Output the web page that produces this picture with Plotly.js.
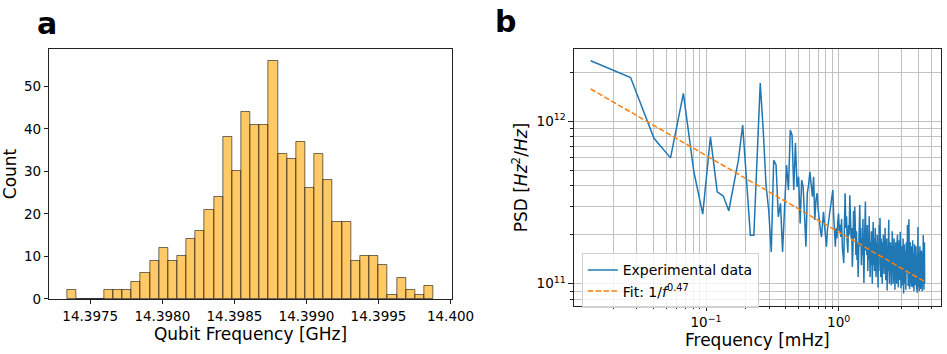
<!DOCTYPE html>
<html>
<head>
<meta charset="utf-8">
<script src="https://cdn.plot.ly/plotly-3.0.1.min.js"></script>
<style>
  body { margin: 0; background: #fff; }
  #plotArea { width: 947px; height: 354px; }
</style>
</head>
<body>
<div id="plotArea"></div>
<script>
// histogram of qubit frequency (40 bins)
var binStart = 14.397343;
var binEnd = 14.399881;
var counts = [2, 0, 0, 0, 2, 2, 2, 4, 6, 9,
              12, 9, 10, 14, 16, 21, 24, 38, 30, 44,
              41, 41, 56, 34, 33, 37, 26, 34, 28, 18,
              18, 9, 10, 10, 8, 1, 5, 2, 1, 3];
var histTickVals = [14.3975, 14.398, 14.3985, 14.399, 14.3995, 14.4];
var histTickText = ["14.3975", "14.3980", "14.3985", "14.3990", "14.3995", "14.400"];
var countTicks = [0, 10, 20, 30, 40, 50];

// PSD, frequency step in mHz, values in units of 1e11 Hz^2/Hz
var freqStep = 0.01349;
var psd = [
  23.5, 18.5, 7.83, 5.94, 14.8, 4.88, 2.68, 8.0, 3.67, 3.46,
  2.81, 4.05, 5.75, 9.44, 4.34, 1.99, 1.99, 6.01, 17.1, 8.81,
  4.05, 2.84, 1.57, 5.75, 5.37, 2.58, 3.12, 1.57, 3.27, 5.37,
  3.77, 8.81, 8.2, 3.77, 7.33, 3.94, 4.55, 2.35, 4.34, 3.94,
  2.64, 1.69, 3.6, 4.05, 4.88, 4.05, 3.43, 4.55, 2.47, 3.27,
  3.6, 2.84, 2.3, 2.14, 1.94, 2.47, 2.77, 2.3, 1.86, 1.69,
  2.14, 2.35, 2.6, 2.85, 3.05, 3.4, 3.77, 2.6, 2.1, 1.69,
  2.2, 1.9, 2.4, 2.7, 2.1, 2.3, 1.94, 2.5, 1.7, 1.45,
  1.34, 2.4, 3.6, 2.2, 2.6, 1.8, 1.55, 2.3, 2.0, 3.5,
  2.4, 1.9, 2.2, 1.27, 1.6, 2.8, 1.9, 2.97, 2.3, 1.5,
  2.1, 1.4, 1.8, 1.1, 1.6, 2.4, 3.05, 1.7, 2.2, 1.3,
  1.9, 1.5, 2.5, 1.4, 1.01, 1.7, 2.2, 3.2, 1.6, 2.0,
  1.5, 2.3, 1.2, 1.9, 1.4, 2.6, 1.6, 1.1, 1.8, 1.3,
  2.1, 1.5, 1.0, 1.7, 2.4, 1.3, 1.9, 1.2, 1.6, 2.2,
  1.4, 1.1, 1.8, 1.3, 2.0, 1.5, 0.95, 1.7, 1.2, 2.3,
  1.6, 2.54, 1.4, 1.1, 1.9, 1.3, 1.6, 1.0, 1.8, 1.25,
  2.0, 1.4, 1.15, 1.7, 1.3, 2.2, 1.5, 1.05, 1.6, 1.2,
  1.9, 0.91, 1.4, 1.7, 1.2, 2.0, 2.47, 1.3, 1.0, 1.6,
  1.25, 1.8, 1.1, 1.5, 0.98, 1.7, 1.3, 2.1, 1.2, 1.45,
  1.0, 1.65, 1.3, 1.9, 1.1, 1.4, 0.92, 1.55, 1.25, 1.8,
  1.15, 1.5, 1.0, 1.75, 1.3, 2.0, 1.1, 1.4, 0.95, 1.6,
  1.2, 1.85, 1.05, 1.45, 1.3, 2.09, 1.15, 1.55, 0.94, 1.35,
  1.7, 1.1, 1.4, 0.98, 1.6, 1.25, 1.9, 1.05, 0.87, 1.5,
  1.2, 1.75, 1.0, 1.35, 1.6, 1.1, 1.45, 0.92, 1.3, 1.8,
  1.05, 1.5, 1.2, 1.95, 2.3, 1.15, 1.4, 0.97, 1.65, 1.25,
  2.49, 1.1, 1.4, 0.93, 1.55, 1.2, 1.8, 1.0, 1.35, 1.15,
  1.6, 0.96, 1.3, 1.7, 1.05, 1.45, 1.2, 1.85, 0.95, 1.35,
  1.1, 1.55, 1.25, 0.9, 1.4, 1.15, 1.75, 1.0, 1.3, 1.6,
  0.98, 1.45, 1.2, 1.7, 1.05, 1.35, 0.92, 1.5, 1.15, 0.88,
  1.4, 1.1, 1.65, 2.23, 1.25, 0.95, 1.3, 1.55, 1.05, 1.2,
  0.9, 1.45, 1.15, 1.7, 1.0, 1.3, 0.93, 1.5, 1.1, 1.35,
  0.96, 1.6, 1.2, 1.05, 1.4, 0.9, 1.25, 1.55, 1.0, 1.3,
  1.1, 1.99, 0.95, 1.45, 1.15, 0.92, 1.35, 1.05, 1.8, 1.0
];
var fitAmp = 2.08e11;   // value at 1 mHz
var fitExp = 0.47;
var psdXTicks = [0.1, 1];
var psdXText = ["10<sup>\u22121</sup>", "10<sup>0</sup>"];
var psdYTicks = [1e11, 1e12];
var psdYText = ["10<sup>11</sup>", "10<sup>12</sup>"];

var binWidth = (binEnd - binStart) / counts.length;
var binCenters = counts.map(function (c, i) { return binStart + (i + 0.5) * binWidth; });

var freqs = psd.map(function (v, i) { return (i + 1) * freqStep; });
var psdVals = psd.map(function (v) { return v * 1e11; });
var fitVals = freqs.map(function (f) { return fitAmp / Math.pow(f, fitExp); });

// minor ticks for the log axes (2..9 in each decade)
function logMinor(lo, hi) {
  var out = [];
  for (var d = lo; d <= hi; d++) {
    for (var m = 2; m <= 9; m++) out.push(m * Math.pow(10, d));
  }
  return out;
}

var font = "DejaVu Sans, sans-serif";
var gridCol = "#c2c2c2";

var histTrace = {
  x: binCenters,
  y: counts,
  width: binWidth,
  type: "bar",
  marker: {color: "rgba(255,165,0,0.6)", line: {color: "rgba(0,0,0,0.55)", width: 1}},
  showlegend: false,
  xaxis: "x",
  yaxis: "y"
};

var dataTrace = {
  x: freqs,
  y: psdVals,
  mode: "lines",
  type: "scatter",
  name: "Experimental data",
  line: {color: "#1f77b4", width: 1.5},
  xaxis: "x2",
  yaxis: "y2"
};

var fitTrace = {
  x: freqs,
  y: fitVals,
  mode: "lines",
  type: "scatter",
  name: "Fit: 1/<i>f</i><sup>0.47</sup>",
  line: {color: "#ff7f0e", width: 1.5, dash: "5.5px,2.4px"},
  xaxis: "x2",
  yaxis: "y2"
};

var axisCommon = {
  showline: true,
  mirror: true,
  linecolor: "#222",
  linewidth: 1,
  ticks: "outside",
  ticklen: 4.5,
  tickcolor: "#222",
  tickfont: {family: font, size: 13.5, color: "#000"},
  zeroline: false
};

var layout = {
  width: 947,
  height: 354,
  margin: {l: 0, r: 0, t: 0, b: 0},
  paper_bgcolor: "#fff",
  plot_bgcolor: "#fff",
  bargap: 0,
  font: {family: font, color: "#000"},
  xaxis: Object.assign({}, axisCommon, {
    domain: [0.0521, 0.4770],
    range: [14.397216, 14.400008],
    tickmode: "array",
    tickvals: histTickVals,
    ticktext: histTickText,
    showgrid: false,
    anchor: "y",
    title: {text: "Qubit Frequency [GHz]", font: {family: font, size: 17}, standoff: 4}
  }),
  yaxis: Object.assign({}, axisCommon, {
    domain: [0.1554, 0.8616],
    range: [0, 58.8],
    tickmode: "array",
    tickvals: countTicks,
    showgrid: false,
    anchor: "x",
    title: {text: "Count", font: {family: font, size: 17}, standoff: 3}
  }),
  xaxis2: Object.assign({}, axisCommon, {
    type: "log",
    domain: [0.6061, 0.9934],
    range: [-1.996, 0.770],
    tickmode: "array",
    tickvals: psdXTicks,
    ticktext: psdXText,
    showgrid: true,
    gridcolor: gridCol,
    gridwidth: 1,
    anchor: "y2",
    minor: {tickmode: "array", tickvals: logMinor(-2, 0), ticks: "outside", ticklen: 2.5,
            tickcolor: "#222", showgrid: true, gridcolor: gridCol, gridwidth: 1},
    title: {text: "Frequency [mHz]", font: {family: font, size: 17}, standoff: 3}
  }),
  yaxis2: Object.assign({}, axisCommon, {
    type: "log",
    domain: [0.1364, 0.8607],
    range: [10.865, 12.441],
    tickmode: "array",
    tickvals: psdYTicks,
    ticktext: psdYText,
    showgrid: true,
    gridcolor: gridCol,
    gridwidth: 1,
    anchor: "x2",
    minor: {tickmode: "array", tickvals: logMinor(10, 12), ticks: "outside", ticklen: 2.5,
            tickcolor: "#222", showgrid: true, gridcolor: gridCol, gridwidth: 1},
    title: {text: "PSD [<i>Hz</i><sup>2</sup>/<i>Hz</i>]", font: {family: font, size: 17}, standoff: 4}
  }),
  legend: {
    x: 0.6143,
    y: 0.2845,
    xanchor: "left",
    yanchor: "top",
    bgcolor: "rgba(255,255,255,0.8)",
    bordercolor: "#d0d0d0",
    borderwidth: 1,
    font: {family: font, size: 14},
    itemwidth: 30,
    tracegroupgap: 0
  },
  annotations: [
    {text: "<b>a</b>", x: 0.0496, y: 0.935, xref: "paper", yref: "paper",
     xanchor: "center", yanchor: "middle",
     showarrow: false, font: {family: font, size: 30, color: "#000"}},
    {text: "<b>b</b>", x: 0.5343, y: 0.938, xref: "paper", yref: "paper",
     xanchor: "center", yanchor: "middle",
     showarrow: false, font: {family: font, size: 30, color: "#000"}}
  ]
};

Plotly.newPlot("plotArea", [histTrace, dataTrace, fitTrace], layout, {displayModeBar: false});
</script>
</body>
</html>
